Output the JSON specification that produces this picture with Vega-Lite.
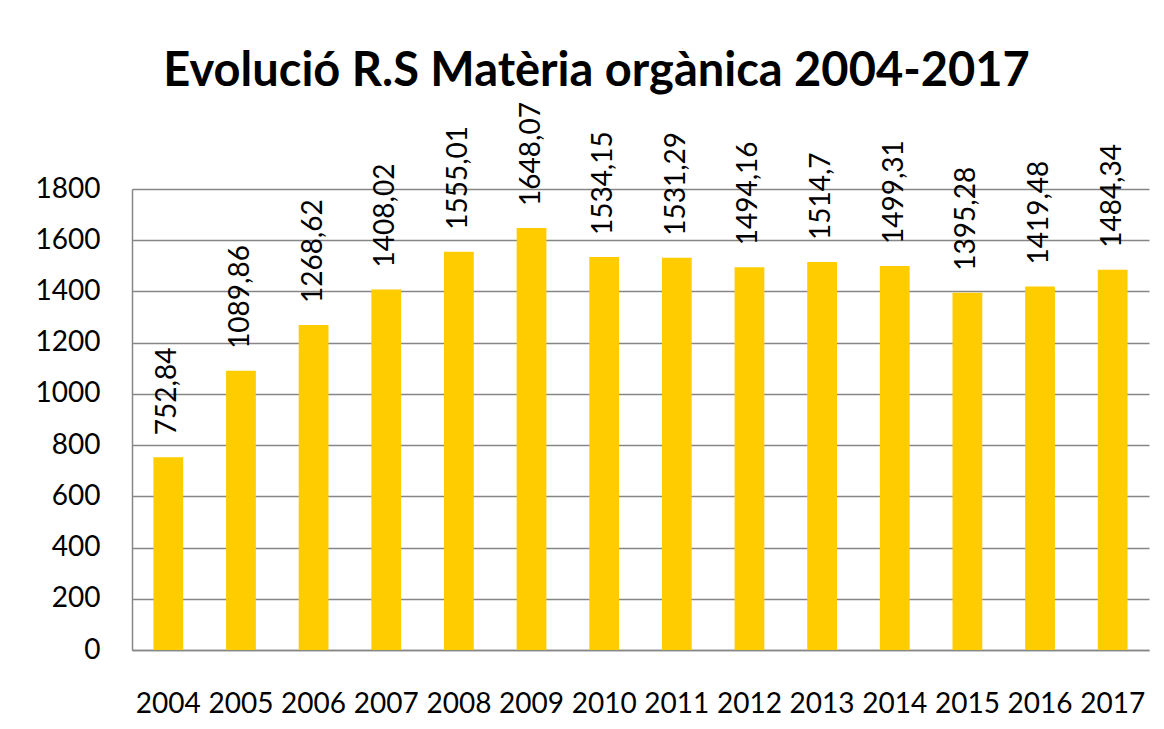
{
  "$schema": "https://vega.github.io/schema/vega-lite/v6.json",
  "width": 1017,
  "height": 461,
  "autosize": {"type": "none"},
  "padding": {"left": 132, "top": 189, "right": 15, "bottom": 79},
  "background": "white",
  "title": {
    "text": "Evolució R.S Matèria orgànica 2004-2017",
    "font": "Lato",
    "fontSize": 47,
    "fontWeight": "bold",
    "color": "#000000",
    "anchor": "middle",
    "baseline": "alphabetic",
    "offset": -31,
    "dx": -44
  },
  "data": {
    "values": [
      {"any": "2004", "tones": 752.84, "etiqueta": "752,84"},
      {"any": "2005", "tones": 1089.86, "etiqueta": "1089,86"},
      {"any": "2006", "tones": 1268.62, "etiqueta": "1268,62"},
      {"any": "2007", "tones": 1408.02, "etiqueta": "1408,02"},
      {"any": "2008", "tones": 1555.01, "etiqueta": "1555,01"},
      {"any": "2009", "tones": 1648.07, "etiqueta": "1648,07"},
      {"any": "2010", "tones": 1534.15, "etiqueta": "1534,15"},
      {"any": "2011", "tones": 1531.29, "etiqueta": "1531,29"},
      {"any": "2012", "tones": 1494.16, "etiqueta": "1494,16"},
      {"any": "2013", "tones": 1514.7, "etiqueta": "1514,7"},
      {"any": "2014", "tones": 1499.31, "etiqueta": "1499,31"},
      {"any": "2015", "tones": 1395.28, "etiqueta": "1395,28"},
      {"any": "2016", "tones": 1419.48, "etiqueta": "1419,48"},
      {"any": "2017", "tones": 1484.34, "etiqueta": "1484,34"}
    ]
  },
  "encoding": {
    "x": {
      "field": "any",
      "type": "ordinal",
      "scale": {"paddingInner": 0.59, "paddingOuter": 0.295},
      "axis": {
        "title": null,
        "labelAngle": 0,
        "labelFont": "Lato",
        "labelFontSize": 28,
        "labelColor": "#000000",
        "labelPadding": 40,
        "ticks": false,
        "domain": true,
        "domainColor": "#868686",
        "domainWidth": 1.5
      }
    },
    "y": {
      "field": "tones",
      "type": "quantitative",
      "scale": {"domain": [0, 1800], "nice": false},
      "axis": {
        "title": null,
        "values": [0, 200, 400, 600, 800, 1000, 1200, 1400, 1600, 1800],
        "format": "d",
        "labelFont": "Lato",
        "labelFontSize": 28,
        "labelColor": "#000000",
        "labelPadding": 32,
        "ticks": false,
        "domain": true,
        "domainColor": "#868686",
        "domainWidth": 1.5,
        "grid": true,
        "gridColor": "#868686",
        "gridWidth": 1.5
      }
    }
  },
  "layer": [
    {"mark": {"type": "bar", "color": "#FFCC00"}},
    {
      "mark": {
        "type": "text",
        "angle": 270,
        "align": "left",
        "baseline": "middle",
        "dx": 22,
        "font": "Lato",
        "fontSize": 28,
        "color": "#000000"
      },
      "encoding": {"text": {"field": "etiqueta", "type": "nominal"}}
    }
  ],
  "config": {"view": {"stroke": null}}
}
